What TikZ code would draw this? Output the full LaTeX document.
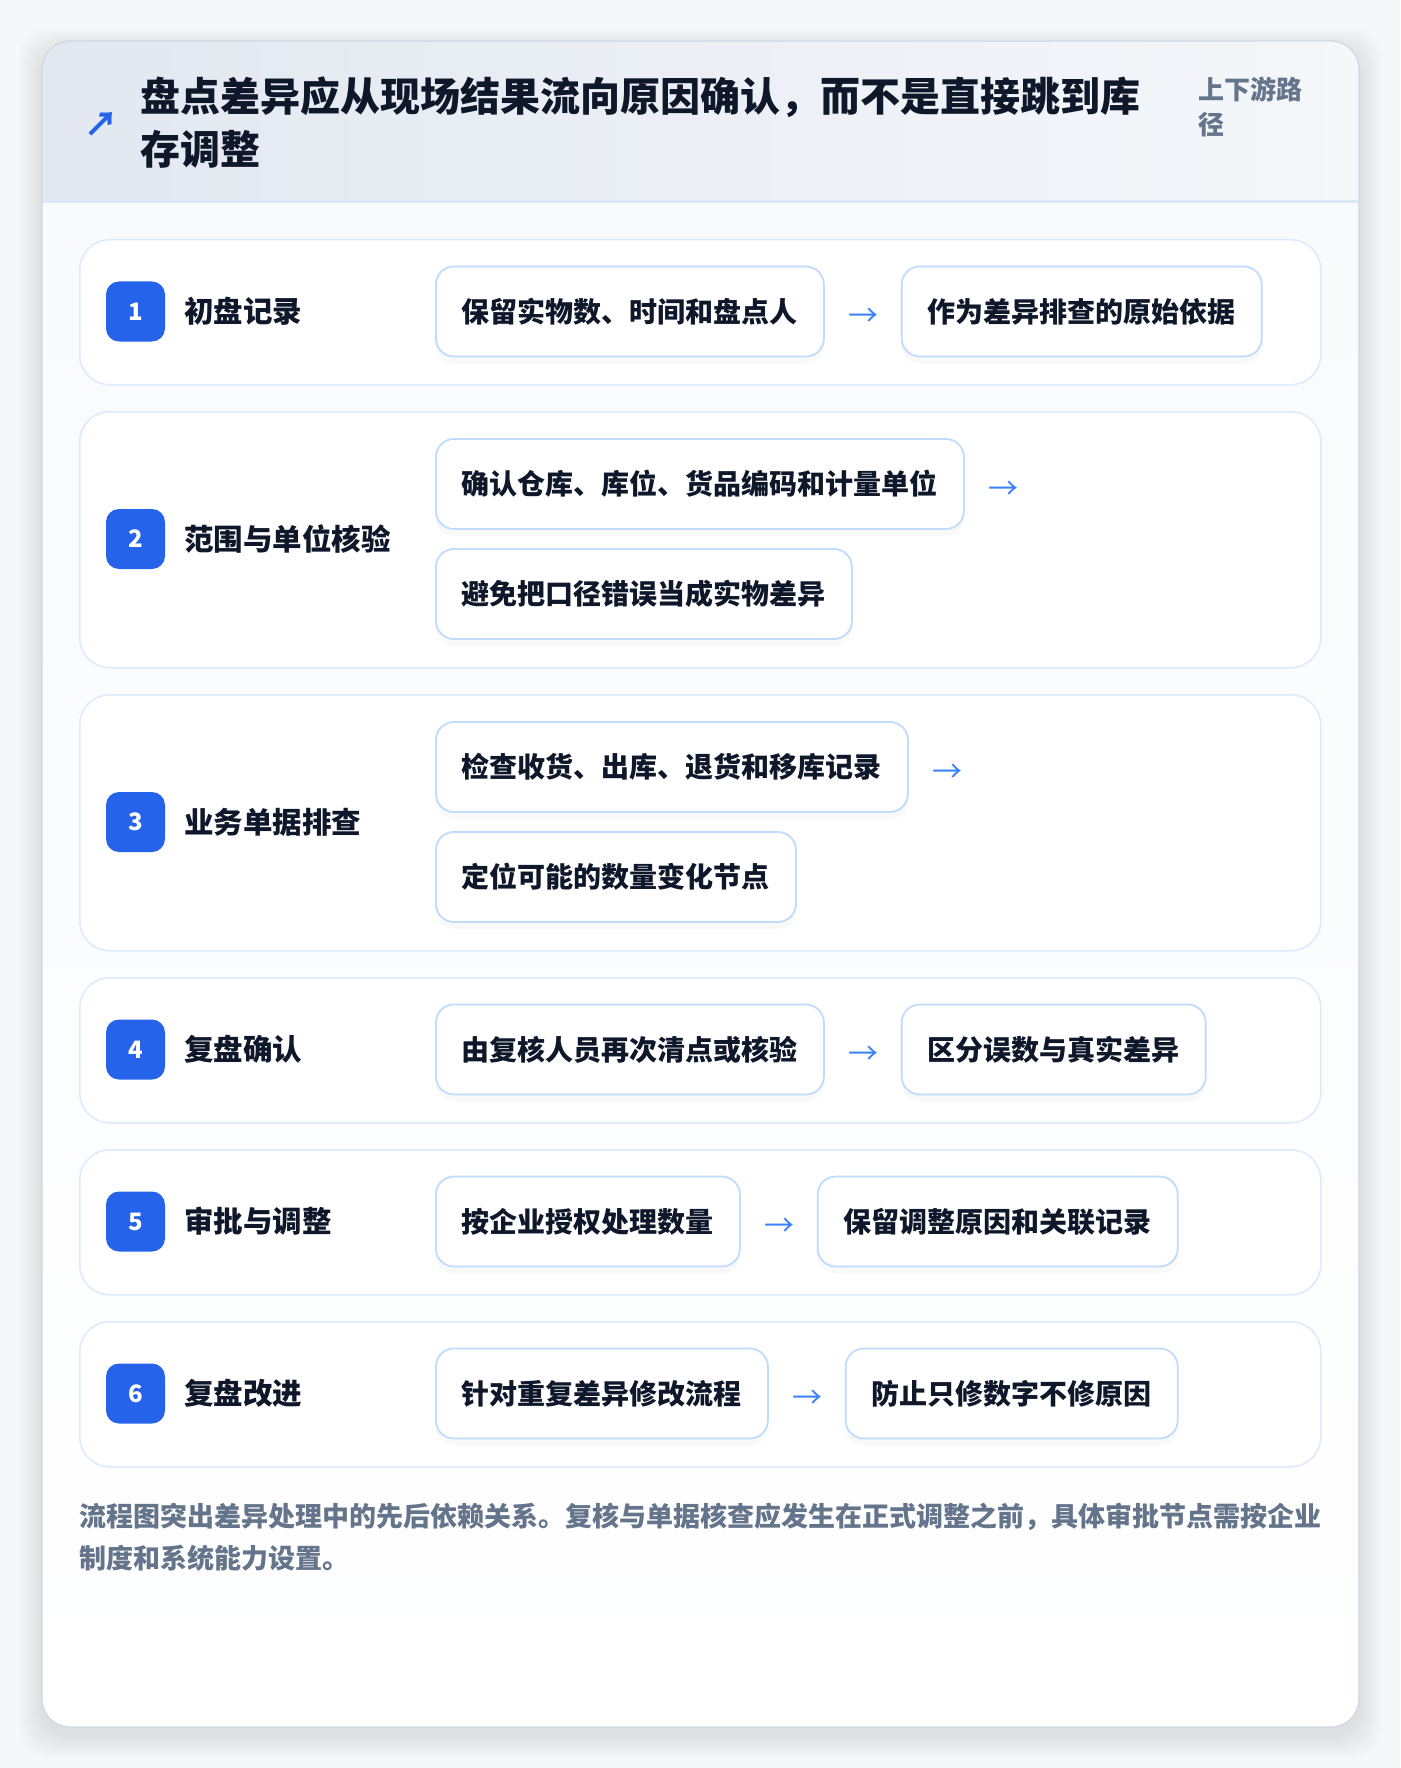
\documentclass[tikz,border=0pt]{standalone}
\usepackage{fontspec}
\setmainfont{Noto Sans CJK SC}
\usetikzlibrary{shadows,calc}
\definecolor{pagebg}{HTML}{F6F7F9}
\definecolor{ink}{HTML}{0F172A}
\definecolor{muted}{HTML}{64748B}
\definecolor{badgeblue}{HTML}{2563EB}
\definecolor{arrowblue}{HTML}{3B82F6}
\definecolor{boxline}{HTML}{BFDBFE}
\definecolor{rowline}{HTML}{DBEAFE}
\definecolor{hdrL}{HTML}{E2E8F0}
\definecolor{hdrR}{HTML}{F5F7FA}
\definecolor{bodytop}{HTML}{F8FAFC}
\definecolor{cardline}{HTML}{CFD8E3}
\definecolor{hdrline}{HTML}{DCE8F8}
\tikzset{
  rowbox/.style={draw=rowline, line width=1.5pt, fill=white, rounded corners=30pt,
    minimum width=1241pt, anchor=north west, inner sep=0pt},
  badge/.style={fill=badgeblue, rounded corners=13pt, minimum width=59pt, minimum height=60pt,
    inner sep=0pt, text=white, font=\bfseries\fontsize{24}{24}\selectfont},
  lbl/.style={anchor=west, inner sep=0pt, text=ink, font=\bfseries\fontsize{29.5}{34}\selectfont},
  stepbox/.style={draw=boxline, line width=1.8pt, fill=white, rounded corners=18pt,
    minimum height=90pt, inner xsep=26pt, inner ysep=0pt, anchor=west, text=ink,
    font=\bfseries\fontsize{28}{32}\selectfont,
    drop shadow={opacity=0.045, shadow xshift=0pt, shadow yshift=-7pt}},
  arr/.style={inner sep=0pt, text=arrowblue, font=\fontsize{30}{30}\selectfont}
}
\begin{document}
\begin{tikzpicture}[x=1pt,y=-1pt]
\useasboundingbox (0,0) rectangle (1400,1768);
\fill[pagebg] (0,0) rectangle (1400,1768);
% card shadow
\foreach \i in {1,...,24}{
  \fill[black, opacity=0.0035, rounded corners=30pt] (42-\i,41-\i+10) rectangle (1359+\i,1727+\i+8);
}
% card
\begin{scope}
  \clip[rounded corners=28pt] (42,41) rectangle (1359,1727);
  \shade[top color=bodytop, bottom color=white] (42,201) rectangle (1359,1727);
  \shade[left color=hdrL, right color=hdrR] (42,41) rectangle (1359,201);
  \fill[hdrline] (42,200) rectangle (1359,203);
\end{scope}
\draw[cardline, line width=1.3pt, rounded corners=28pt] (42,41) rectangle (1359,1727);

% header
\node[anchor=center, inner sep=0pt, text=badgeblue, font=\bfseries\fontsize{34}{34}\selectfont] (icon) at (101,124) {↗};
\node[anchor=north west, inner sep=0pt, align=left, text=ink, font=\bfseries\fontsize{40}{53}\selectfont] (title) at (140,77)
  {盘点差异应从现场结果流向原因确认，而不是直接跳到库\\存调整};
\node[anchor=north west, inner sep=0pt, align=left, text=muted, font=\bfseries\fontsize{26}{35}\selectfont] (tag) at (1198,77)
  {上下游路\\径};

% rows
\node[rowbox, minimum height=145pt] (row1) at (79,239) {};
\node[rowbox, minimum height=256pt] (row2) at (79,411) {};
\node[rowbox, minimum height=256pt] (row3) at (79,694) {};
\node[rowbox, minimum height=145pt] (row4) at (79,977) {};
\node[rowbox, minimum height=145pt] (row5) at (79,1149) {};
\node[rowbox, minimum height=145pt] (row6) at (79,1321) {};

% row 1
\node[badge] (b1) at (135.5,311.5) {1};
\node[lbl] (l1) at (184,311.5) {初盘记录};
\node[stepbox] (s1a) at (435,311.5) {保留实物数、时间和盘点人};
\node[arr] (a1) at ($(s1a.east)+(39,6)$) {→};
\node[stepbox] (s1b) at ($(s1a.east)+(76,0)$) {作为差异排查的原始依据};

% row 2
\node[badge] (b2) at (135.5,539) {2};
\node[lbl] (l2) at (184,539) {范围与单位核验};
\node[stepbox] (s2a) at (435,484) {确认仓库、库位、货品编码和计量单位};
\node[arr] (a2) at ($(s2a.east)+(39,6)$) {→};
\node[stepbox] (s2b) at (435,594) {避免把口径错误当成实物差异};

% row 3
\node[badge] (b3) at (135.5,822) {3};
\node[lbl] (l3) at (184,822) {业务单据排查};
\node[stepbox] (s3a) at (435,767) {检查收货、出库、退货和移库记录};
\node[arr] (a3) at ($(s3a.east)+(39,6)$) {→};
\node[stepbox] (s3b) at (435,877) {定位可能的数量变化节点};

% row 4
\node[badge] (b4) at (135.5,1049.5) {4};
\node[lbl] (l4) at (184,1049.5) {复盘确认};
\node[stepbox] (s4a) at (435,1049.5) {由复核人员再次清点或核验};
\node[arr] (a4) at ($(s4a.east)+(39,6)$) {→};
\node[stepbox] (s4b) at ($(s4a.east)+(76,0)$) {区分误数与真实差异};

% row 5
\node[badge] (b5) at (135.5,1221.5) {5};
\node[lbl] (l5) at (184,1221.5) {审批与调整};
\node[stepbox] (s5a) at (435,1221.5) {按企业授权处理数量};
\node[arr] (a5) at ($(s5a.east)+(39,6)$) {→};
\node[stepbox] (s5b) at ($(s5a.east)+(76,0)$) {保留调整原因和关联记录};

% row 6
\node[badge] (b6) at (135.5,1393.5) {6};
\node[lbl] (l6) at (184,1393.5) {复盘改进};
\node[stepbox] (s6a) at (435,1393.5) {针对重复差异修改流程};
\node[arr] (a6) at ($(s6a.east)+(39,6)$) {→};
\node[stepbox] (s6b) at ($(s6a.east)+(76,0)$) {防止只修数字不修原因};

% footer
\node[anchor=north west, inner sep=0pt, align=left, text=muted, font=\bfseries\fontsize{27}{42}\selectfont] (note) at (79,1503)
  {流程图突出差异处理中的先后依赖关系。复核与单据核查应发生在正式调整之前，具体审批节点需按企业\\制度和系统能力设置。};
\end{tikzpicture}
\end{document}
